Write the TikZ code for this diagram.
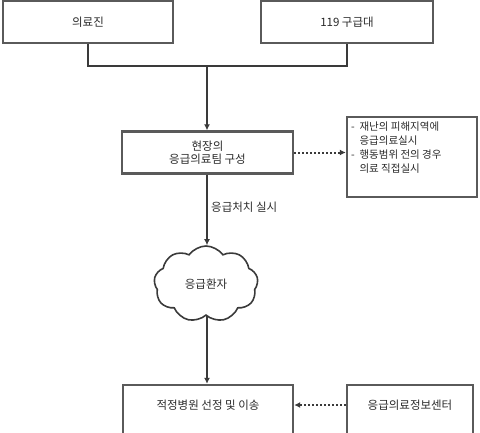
\documentclass[tikz,border=0pt]{standalone}
\usepackage{fontspec}
\setmainfont{Noto Sans CJK KR}
\usetikzlibrary{shapes.symbols,arrows.meta}
\definecolor{lineg}{HTML}{3A3A3A}
\definecolor{boxg}{HTML}{5A5A5A}
\definecolor{txtg}{HTML}{2A2A2A}
\tikzset{
  box/.style={draw=boxg, line width=2.4pt, fill=white, inner sep=0pt, text=txtg, align=center, font=\fontsize{11.5}{13.5}\selectfont},
  conn/.style={draw=lineg, line width=2pt},
  arr/.style={conn, -{Latex[length=6pt,width=6pt]}},
  dots/.style={draw=lineg, line width=2pt, dotted, -{Latex[length=6pt,width=6pt]}},
  lbl/.style={text=txtg, font=\fontsize{11.5}{13.5}\selectfont, inner sep=0pt},
}
\begin{document}
\begin{tikzpicture}[x=1pt,y=-1pt]
\useasboundingbox (0,0) rectangle (480,432);
\begin{scope}
\clip (0,0) rectangle (480,432);
\node[box, minimum width=170, minimum height=42] (a) at (88,22) {의료진};
\node[box, minimum width=172, minimum height=42] (b) at (347,22) {119 구급대};
\node[box, minimum width=171, minimum height=42] (c) at (207.5,152.5) {현장의\\응급의료팀 구성};
\node[box, minimum width=130, minimum height=80] (d) at (412,157) {};
\node[lbl, anchor=north west, align=left, font=\fontsize{10.5}{14}\selectfont] (dt) at (351,122) {-\ \ 재난의 피해지역에\\\phantom{-\ \ }응급의료실시\\-\ \ 행동범위 전의 경우\\\phantom{-\ \ }의료 직접실시};
\node[cloud, cloud puffs=9, cloud puff arc=110, cloud ignores aspect, draw=lineg, line width=1.6pt, minimum width=104, minimum height=76, text=txtg, font=\fontsize{11.5}{13.5}\selectfont] (e) at (206,284) {응급환자};
\node[box, minimum width=170, minimum height=60] (f) at (208,415) {};
\node[lbl] (ft) at (208,405) {적정병원 선정 및 이송};
\node[box, minimum width=126, minimum height=60] (g) at (410,415) {};
\node[lbl] (gt) at (410,405) {응급의료정보센터};
\coordinate (j) at (207,66);
\draw[conn] (a.south) |- (j) -| (b.south);
\draw[arr] (j) -- (j |- c.north);
\draw[dots] (c.east) -- (c.east -| d.west);
\draw[arr] (j |- c.south) -- (j |- e.north);
\node[lbl, anchor=west] (l) at (211,207) {응급처치 실시};
\draw[arr] (j |- e.south) -- (j |- f.north);
\draw[dots] (g.west |- gt) -- (f.east |- ft);
\end{scope}
\end{tikzpicture}
\end{document}
